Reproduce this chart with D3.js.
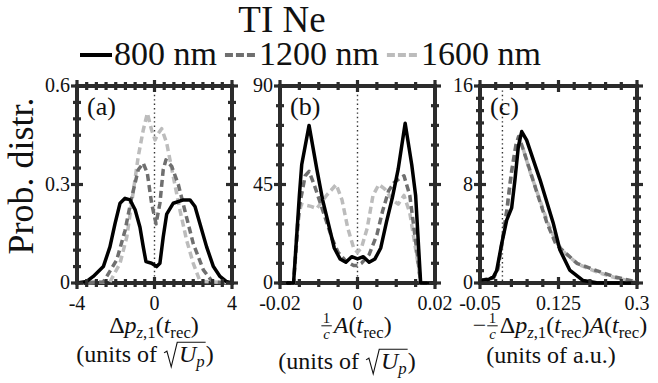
<!DOCTYPE html>
<html>
<head>
<meta charset="UTF-8">
<script src="https://d3js.org/d3.v7.min.js"></script>
</head>
<body style="margin:0">
<svg id="chart" width="658" height="383"></svg>
<script>
// legend / series names
const wavelengths = ["800 nm", "1200 nm", "1600 nm"];

// panel (a): Delta p_z,1(t_rec)
const a800X = [-4, -3.5, -3.16, -2.64, -2.3, -2.04, -1.78, -1.52, -1.26, -1.0, -0.75, -0.58, -0.44, -0.15, 0.11, 0.28, 0.45, 0.63, 0.97, 1.49, 1.83, 2.09, 2.35, 2.69, 3.04, 3.38, 3.7, 4];
const a800Y = [0, 0.005, 0.02, 0.05, 0.11, 0.18, 0.243, 0.258, 0.253, 0.223, 0.17, 0.11, 0.065, 0.06, 0.05, 0.06, 0.14, 0.21, 0.243, 0.253, 0.253, 0.233, 0.18, 0.11, 0.05, 0.02, 0.005, 0];
const a1200X = [-4, -2.64, -1.95, -1.52, -1.18, -0.84, -0.58, -0.37, -0.15, 0.08, 0.28, 0.45, 0.59, 0.89, 1.23, 1.57, 2.0, 2.52, 3.0, 4];
const a1200Y = [0, 0.003, 0.07, 0.16, 0.26, 0.345, 0.365, 0.334, 0.243, 0.18, 0.243, 0.345, 0.375, 0.355, 0.30, 0.22, 0.12, 0.04, 0.003, 0];
const a1600X = [-4, -2.3, -1.78, -1.43, -1.18, -0.84, -0.58, -0.37, -0.15, 0.03, 0.2, 0.37, 0.63, 0.97, 1.32, 1.66, 2.0, 2.35, 4];
const a1600Y = [0, 0.003, 0.06, 0.14, 0.243, 0.385, 0.466, 0.517, 0.466, 0.436, 0.456, 0.47, 0.426, 0.324, 0.22, 0.13, 0.06, 0.005, 0];

// panel (b): A(t_rec)/c
const b800X = [-0.02, -0.0165, -0.015, -0.0144, -0.0125, -0.0105, -0.009, -0.0075, -0.006, -0.0045, -0.003, -0.0015, 0, 0.0015, 0.003, 0.0045, 0.006, 0.0075, 0.009, 0.0105, 0.0123, 0.014, 0.015, 0.0163, 0.02];
const b800Y = [0, 0, 40, 54, 72, 52, 38, 27, 16, 11, 9.5, 12, 11, 12, 9.5, 11, 16, 28, 39, 52, 73, 54, 40, 0, 0];
const b1200X = [-0.02, -0.0165, -0.015, -0.0135, -0.0125, -0.011, -0.0095, -0.008, -0.0065, -0.005, -0.003, -0.001, 0, 0.001, 0.003, 0.005, 0.0065, 0.008, 0.0095, 0.011, 0.012, 0.0135, 0.0155, 0.0163, 0.02];
const b1200Y = [0, 0, 35, 49, 51, 44, 36, 28, 20, 14, 10, 8, 8, 9, 13, 22, 33, 42, 46, 48, 49, 40, 12, 0, 0];
const b1600X = [-0.02, -0.0165, -0.0155, -0.0145, -0.012, -0.0105, -0.008, -0.0055, -0.004, -0.0025, -0.001, 0, 0.001, 0.0025, 0.004, 0.0055, 0.007, 0.009, 0.0105, 0.012, 0.0135, 0.0155, 0.0163, 0.02];
const b1600Y = [0, 0, 28, 36, 35, 34, 40, 45, 38, 25, 16, 14, 16, 25, 40, 45, 43, 38, 36, 40, 32, 10, 0, 0];

// panel (c): -Delta p_z,1 A / c
const c800X = [-0.05, -0.03, -0.02, -0.0128, -0.0016, 0.0095, 0.0206, 0.028, 0.0355, 0.043, 0.054, 0.0837, 0.113, 0.128, 0.15, 0.18, 0.21, 0.3];
const c800Y = [0.2, 0.3, 0.5, 1.0, 3.2, 5.1, 6.1, 8.4, 11.1, 12.3, 11.6, 8.4, 4.9, 2.7, 1.05, 0.2, 0.02, 0];
const c1200X = [-0.05, -0.02, -0.01, 0, 0.01, 0.02, 0.03, 0.036, 0.045, 0.06, 0.08, 0.1, 0.12, 0.136, 0.166, 0.21, 0.25, 0.28, 0.3];
const c1200Y = [0.2, 0.4, 1.2, 3.5, 6.0, 9.0, 11.2, 11.9, 11.0, 9.3, 7.0, 4.8, 3.1, 2.6, 1.6, 1.0, 0.5, 0.25, 0.1];
const c1600X = [-0.05, -0.02, -0.01, 0, 0.01, 0.02, 0.03, 0.038, 0.047, 0.06, 0.08, 0.1, 0.12, 0.14, 0.17, 0.21, 0.25, 0.28, 0.3];
const c1600Y = [0.2, 0.4, 1.1, 3.3, 5.8, 8.8, 11.0, 11.6, 10.8, 9.2, 7.1, 5.0, 3.3, 2.4, 1.5, 0.9, 0.45, 0.2, 0.05];

// axis ticks
const aTicksX = [-4, 0, 4], aTicksY = [0, 0.3, 0.6];
const bTicksX = [-0.02, 0, 0.02], bTicksY = [0, 45, 90];
const cTicksX = [-0.05, 0.125, 0.3], cTicksY = [0, 8, 16];

const colors = ["#000", "#6f6f6f", "#bcbcbc"];
const dashes = [null, "7,4", "7,4"];
const frameColor = "#2b2b2b";
const ink = "#111";

const svg = d3.select("#chart");
const plotTop = 86, plotBottom = 283;

// every text gets the serif font inline, set before it is measured
function addText(parent, size) {
  return parent.append("text")
    .attr("font-family", "Liberation Serif")
    .style("font-family", '"Liberation Serif"')
    .attr("font-size", size).attr("fill", ink);
}

const panels = [
  { label: "(a)", xr: [77, 232], xd: [-4, 4], yd: [0, 0.6], xt: aTicksX, yt: aTicksY, xMinor: 16, yMinor: 12,
    series: [[a800X, a800Y], [a1200X, a1200Y], [a1600X, a1600Y]] },
  { label: "(b)", xr: [280, 435], xd: [-0.02, 0.02], yd: [0, 90], xt: bTicksX, yt: bTicksY, xMinor: 8, yMinor: 10,
    series: [[b800X, b800Y], [b1200X, b1200Y], [b1600X, b1600Y]] },
  { label: "(c)", xr: [480, 637], xd: [-0.05, 0.3], yd: [0, 16], xt: cTicksX, yt: cTicksY, xMinor: 10, yMinor: 16,
    series: [[c800X, c800Y], [c1200X, c1200Y], [c1600X, c1600Y]] }
];

panels.forEach(p => {
  const x = d3.scaleLinear().domain(p.xd).range(p.xr);
  const y = d3.scaleLinear().domain(p.yd).range([plotBottom, plotTop]);
  const g = svg.append("g");

  // dotted zero line
  g.append("line")
    .attr("x1", x(0)).attr("x2", x(0)).attr("y1", plotTop).attr("y2", plotBottom)
    .attr("stroke", "#333").attr("stroke-width", 1.4).attr("stroke-dasharray", "1.4,3");

  // frame
  g.append("rect")
    .attr("x", p.xr[0]).attr("y", plotTop)
    .attr("width", p.xr[1] - p.xr[0]).attr("height", plotBottom - plotTop)
    .attr("fill", "none").attr("stroke", frameColor).attr("stroke-width", 4);

  // curves
  const line = d3.line().x(d => x(d[0])).y(d => y(d[1]));
  [2, 1, 0].forEach(i => {
    const [xs, ys] = p.series[i];
    g.append("path")
      .datum(xs.map((v, k) => [v, ys[k]]))
      .attr("d", line)
      .attr("fill", "none")
      .attr("stroke", colors[i])
      .attr("stroke-width", 3.5)
      .attr("stroke-linejoin", "round")
      .attr("stroke-dasharray", dashes[i]);
  });

  // ticks on all four sides
  const xMinorTicks = d3.range(p.xMinor + 1).map(k => p.xd[0] + k * (p.xd[1] - p.xd[0]) / p.xMinor);
  const yMinorTicks = d3.range(p.yMinor + 1).map(k => p.yd[0] + k * (p.yd[1] - p.yd[0]) / p.yMinor);
  const isMajor = (v, arr, span) => arr.some(m => Math.abs(m - v) < span * 1e-6);
  xMinorTicks.forEach(v => {
    const h = isMajor(v, p.xt, p.xd[1] - p.xd[0]) ? 12 : 8;
    [plotTop, plotBottom].forEach(yy => {
      g.append("rect").attr("x", x(v) - 1.6).attr("y", yy - h / 2)
        .attr("width", 3.2).attr("height", h).attr("fill", frameColor);
    });
  });
  yMinorTicks.forEach(v => {
    const w = isMajor(v, p.yt, p.yd[1] - p.yd[0]) ? 12 : 8;
    p.xr.forEach(xx => {
      g.append("rect").attr("x", xx - w / 2).attr("y", y(v) - 1.6)
        .attr("width", w).attr("height", 3.2).attr("fill", frameColor);
    });
  });

  // tick labels
  p.xt.forEach(d => {
    addText(g, 20).attr("x", x(d)).attr("y", 310).attr("text-anchor", "middle").text(d);
  });
  p.yt.forEach(d => {
    addText(g, 20).attr("x", p.xr[0] - 7).attr("y", y(d) + 6).attr("text-anchor", "end").text(d);
  });

  // panel letter
  addText(g, 26).attr("x", p.xr[0] + 10).attr("y", 115).text(p.label);
});

// math-ish label layout: pieces laid out left to right, then centred
function mathText(pieces, cx, y, size) {
  const grp = svg.append("g");
  let x = 0, radStart = null;
  pieces.forEach(p => {
    if (p.frac) {
      const fs = size * 0.62;
      const n = addText(grp, fs).attr("text-anchor", "middle").text(p.frac[0]);
      const d = addText(grp, fs).attr("font-style", "italic").attr("text-anchor", "middle").text(p.frac[1]);
      const w = Math.max(n.node().getComputedTextLength(), d.node().getComputedTextLength()) + 3;
      n.attr("x", x + 1 + w / 2).attr("y", y - size * 0.42);
      d.attr("x", x + 1 + w / 2).attr("y", y + size * 0.26);
      grp.append("line").attr("x1", x + 1).attr("x2", x + 1 + w)
        .attr("y1", y - size * 0.3).attr("y2", y - size * 0.3)
        .attr("stroke", ink).attr("stroke-width", 1);
      x += w + 3;
    } else if (p.rad === "start") {
      radStart = x;
      x += size * 0.62;
    } else if (p.rad === "end") {
      const s = size;
      grp.append("path")
        .attr("d", `M${radStart},${y - s * 0.38} L${radStart + s * 0.12},${y - s * 0.45} L${radStart + s * 0.3},${y + s * 0.2} L${radStart + s * 0.55},${y - s * 0.82} H${x + 1}`)
        .attr("fill", "none").attr("stroke", ink).attr("stroke-width", 1.1);
      x += 1;
    } else {
      const t = addText(grp, p.sub ? size * 0.7 : size)
        .attr("x", x).attr("y", p.sub ? y + size * 0.22 : y)
        .attr("font-style", p.i ? "italic" : "normal")
        .text(p.t);
      x += t.node().getComputedTextLength() + (p.gap || 0);
    }
  });
  grp.attr("transform", `translate(${cx - x / 2},0)`);
}

const fs = 24;
const dp = [{ t: "Δ" }, { t: "p", i: 1 }, { t: "z", i: 1, sub: 1 }, { t: ",1", sub: 1 }];
const trec = [{ t: "(" }, { t: "t", i: 1 }, { t: "rec", sub: 1 }, { t: ")" }];
const unitsUp = [{ t: "(units of", gap: 7 }, { rad: "start" }, { t: "U", i: 1 }, { t: "p", i: 1, sub: 1 }, { rad: "end" }, { t: ")" }];
mathText([...dp, ...trec], 154, 333, fs);
mathText(unitsUp, 145, 362, fs);
mathText([{ frac: ["1", "c"] }, { t: "A", i: 1 }, ...trec], 356, 333, fs);
mathText(unitsUp, 347, 369, fs);
mathText([{ t: "−" }, { frac: ["1", "c"] }, ...dp, ...trec, { t: "A", i: 1 }, ...trec], 560, 333, fs);
mathText([{ t: "(units of a.u.)" }], 551, 363, fs);

// y label
addText(svg, 36)
  .attr("transform", "translate(33,176) rotate(-90)")
  .attr("text-anchor", "middle")
  .text("Prob. distr.");

// title
addText(svg, 37)
  .attr("x", 282).attr("y", 32)
  .attr("text-anchor", "middle")
  .text("TI Ne");

// legend
const leg = svg.append("g");
let lx = 80;
wavelengths.forEach((w, i) => {
  leg.append("line")
    .attr("x1", lx).attr("x2", lx + 32).attr("y1", 55).attr("y2", 55)
    .attr("stroke", colors[i]).attr("stroke-width", 4)
    .attr("stroke-dasharray", dashes[i] ? "8,3" : null);
  const t = addText(leg, 34).attr("x", lx + 34).attr("y", 65).text(w);
  lx += 34 + t.node().getComputedTextLength() + 8;
});
</script>
</body>
</html>
